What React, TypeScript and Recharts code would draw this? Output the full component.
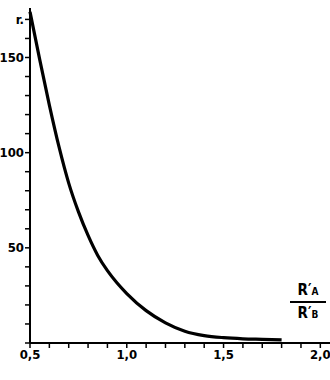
import { LineChart, Line, XAxis, YAxis } from 'recharts'

const ratio = [0.5, 0.55, 0.6, 0.65, 0.7, 0.75, 0.8, 0.85, 0.9, 0.95, 1.0, 1.1, 1.2, 1.3, 1.4, 1.5, 1.6, 1.7, 1.8]
const rValues = [174, 149, 125, 103, 84, 69, 56.5, 46, 38, 31.5, 26, 17, 10.6, 6.2, 3.9, 2.8, 2.2, 1.9, 1.6]
const xTicks = [0.5, 0.6, 0.7, 0.8, 0.9, 1.0, 1.1, 1.2, 1.3, 1.4, 1.5, 1.6, 1.7, 1.8, 1.9, 2.0]
const xLabels: Record<string, string> = { '0.5': '0,5', '1': '1,0', '1.5': '1,5', '2': '2,0' }
const yTicks = [0, 10, 20, 30, 40, 50, 60, 70, 80, 90, 100, 110, 120, 130, 140, 150, 160, 170]
const yLabels: Record<string, string> = { '50': '50', '100': '100', '150': '150', '170': 'r.' }

const data = ratio.map((x, i) => ({ x, r: rValues[i] }))
const FONT = '"DejaVu Sans Condensed", "DejaVu Sans", sans-serif'

export default function App() {
  return (
    <div style={{ position: 'absolute', left: 0, top: 0, width: 330, height: 380, background: '#fff' }}>
      <LineChart width={330} height={380} data={data} margin={{ top: 8, right: 0, bottom: 7, left: 0 }}>
        <XAxis dataKey="x" type="number" domain={[0.5, 2.05]} ticks={xTicks} interval={0}
          tickFormatter={(v) => xLabels[String(Math.round(v * 10) / 10)] ?? ''}
          height={30} tickSize={5} tickMargin={2}
          axisLine={{ stroke: '#000', strokeWidth: 2 }} tickLine={{ stroke: '#000', strokeWidth: 1.5 }}
          tick={{ fill: '#000', fontSize: 13, fontWeight: 700, fontFamily: FONT }} />
        <YAxis type="number" domain={[0, 176]} ticks={yTicks} interval={0} width={30}
          tickFormatter={(v) => yLabels[String(v)] ?? ''}
          tickSize={5} tickMargin={1}
          axisLine={{ stroke: '#000', strokeWidth: 2 }} tickLine={{ stroke: '#000', strokeWidth: 1.5 }}
          tick={{ fill: '#000', fontSize: 13, fontWeight: 700, fontFamily: FONT }} />
        <Line dataKey="r" type="monotone" stroke="#000" strokeWidth={3.2} dot={false} isAnimationActive={false} />
      </LineChart>
      <div style={{ position: 'absolute', left: 290, top: 283, width: 36, textAlign: 'center', fontFamily: FONT, fontWeight: 700, color: '#000', lineHeight: 1 }}>
        <div style={{ fontSize: 15, paddingBottom: 3, borderBottom: '2px solid #000' }}>R′<span style={{ fontSize: 10 }}>A</span></div>
        <div style={{ fontSize: 15, paddingTop: 3 }}>R′<span style={{ fontSize: 10 }}>B</span></div>
      </div>
    </div>
  )
}
